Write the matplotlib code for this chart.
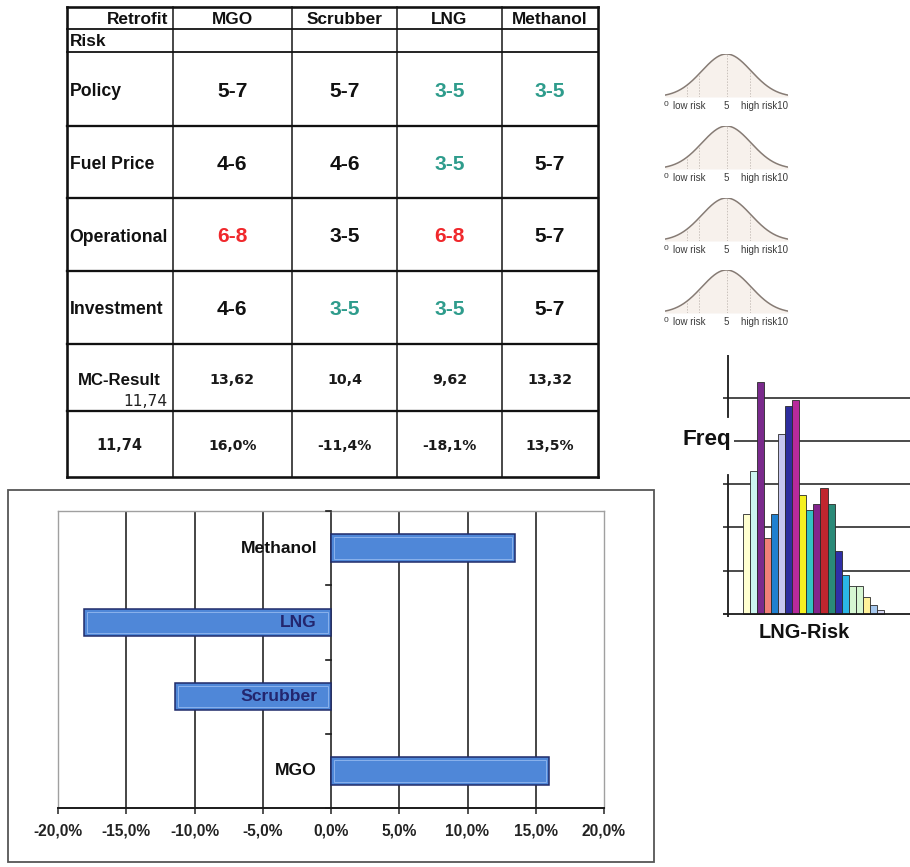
import numpy as np
import matplotlib
matplotlib.use("Agg")
import matplotlib.pyplot as plt
from matplotlib.patches import Rectangle

# ---------------------------------------------------------------- data
retrofits = ["MGO", "Scrubber", "LNG", "Methanol"]
risk_factors = ["Policy", "Fuel Price", "Operational", "Investment"]
risk_ranges = [
    ["5-7", "5-7", "3-5", "3-5"],
    ["4-6", "4-6", "3-5", "5-7"],
    ["6-8", "3-5", "6-8", "5-7"],
    ["4-6", "3-5", "3-5", "5-7"],
]
# -1 = favourable (low risk), 0 = neutral, 1 = unfavourable (high risk)
risk_class = [
    [0, 0, -1, -1],
    [0, 0, -1, 0],
    [1, 0, 1, 0],
    [0, -1, -1, 0],
]
mc_result = [13.62, 10.4, 9.62, 13.32]
mc_mean = 11.74
deviation_pct = [16.0, -11.4, -18.1, 13.5]

# Monte-Carlo histogram of the LNG risk score
lng_freq = [46, 66, 107, 35, 46, 83, 96, 99, 55, 48,
            51, 58, 51, 29, 18, 13, 13, 8, 4, 2]
lng_colors = ["#FFFFD0", "#CCF5F0", "#7A2A8C", "#F08078", "#2080D0",
              "#C8C8F0", "#2E2E9E", "#B82A9C", "#F5F020", "#33C2C2",
              "#84238C", "#C0262E", "#2A8A78", "#2F2FA8", "#2BB6E6",
              "#D6F7D2", "#D6F7D2", "#FFF29A", "#A6C8EE", "#D8D8F4"]
freq_grid = [20, 40, 60, 80, 100]

# risk-score distribution guides
bell_tick_pos = [-0.1, 2.0, 5.0, 8.1]
bell_tick_labels = ["0", "low risk", "5", "high risk10"]
bell_guides = [1.8, 2.8, 5.0, 6.9]

# bar chart axis
pct_ticks = [-20, -15, -10, -5, 0, 5, 10, 15, 20]

# ---------------------------------------------------------------- figure
W, H = 910, 867
fig = plt.figure(figsize=(W / 100, H / 100), dpi=100)
fig.patch.set_facecolor("white")
plt.rcParams["font.family"] = ["Liberation Sans", "DejaVu Sans"]


def pt(px):
    return px * 0.72


def px_axes(x0, y0, x1, y1, **kw):
    return fig.add_axes([x0 / W, 1 - y1 / H, (x1 - x0) / W, (y1 - y0) / H], **kw)


def comma(v):
    return ("%g" % v).replace(".", ",")


canvas = px_axes(0, 0, W, H)
canvas.set_xlim(0, W)
canvas.set_ylim(H, 0)
canvas.axis("off")

# ---------------------------------------------------------------- table
col_x = [66.7, 172.7, 292, 397, 502, 598]
row_y = [6.7, 29.3, 52.3, 126, 198.3, 270.7, 344, 411, 477]
ink = "#111111"

for i, y in enumerate(row_y):
    lw = 2.6 if i in (0, len(row_y) - 1) else (1.8 if i < 3 else 2.3)
    canvas.plot([col_x[0], col_x[-1]], [y, y], color=ink, lw=pt(lw),
                solid_capstyle="projecting")
for j, x in enumerate(col_x):
    lw = 2.6 if j in (0, len(col_x) - 1) else 1.5
    canvas.plot([x, x], [row_y[0], row_y[-1]], color=ink, lw=pt(lw),
                solid_capstyle="projecting")

col_c = [(col_x[j] + col_x[j + 1]) / 2 for j in range(len(col_x) - 1)]
row_c = [(row_y[i] + row_y[i + 1]) / 2 for i in range(len(row_y) - 1)]

head_fs = pt(17.2)
canvas.text(col_x[1] - 4, row_c[0] + 1, "Retrofit", ha="right", va="center",
            fontsize=head_fs, fontweight="bold", color=ink)
for j, name in enumerate(retrofits):
    canvas.text(col_c[j + 1], row_c[0] + 1, name, ha="center", va="center",
                fontsize=head_fs, fontweight="bold", color=ink)
canvas.text(col_x[0] + 3, row_c[1] + 1, "Risk", ha="left", va="center",
            fontsize=head_fs, fontweight="bold", color=ink)

class_color = {-1: "#2E9C8C", 0: ink, 1: "#F0282C"}
for i, factor in enumerate(risk_factors):
    yc = row_c[2 + i] + 2.5
    canvas.text(col_x[0] + 3, yc, factor, ha="left", va="center",
                fontsize=pt(17.6), fontweight="bold", color=ink)
    for j in range(len(retrofits)):
        canvas.text(col_c[j + 1], yc, risk_ranges[i][j], ha="center",
                    va="center", fontsize=pt(21), fontweight="bold",
                    color=class_color[risk_class[i][j]])

# Monte-Carlo result row
y_mc = row_c[6] + 3
canvas.text(col_c[0], y_mc, "MC-Result", ha="center", va="center",
            fontsize=pt(16.8), fontweight="bold", color=ink)
canvas.text(col_x[1] - 5, y_mc + 21, comma(mc_mean), ha="right", va="center",
            fontsize=pt(15.5), color="#222222", family="DejaVu Sans")
for j, v in enumerate(mc_result):
    canvas.text(col_c[j + 1], y_mc, comma(v), ha="center", va="center",
                fontsize=pt(14.3), fontweight="bold", color="#1a1a1a",
                family="DejaVu Sans")

# deviation row
y_dev = row_c[7] + 1.5
canvas.text(col_c[0], y_dev, comma(mc_mean), ha="center", va="center",
            fontsize=pt(14.5), fontweight="bold", color="#1a1a1a",
            family="DejaVu Sans")
for j, v in enumerate(deviation_pct):
    canvas.text(col_c[j + 1], y_dev, ("%.1f%%" % v).replace(".", ","),
                ha="center", va="center", fontsize=pt(14), fontweight="bold",
                color="#1a1a1a", family="DejaVu Sans")

# ---------------------------------------------------------------- risk bells
bell_tops = [54, 126, 198, 270]
xs = np.linspace(0, 10, 300)


def bell(x):
    return np.exp(-0.5 * ((x - 5.0) / 2.0) ** 2)


for top in bell_tops:
    bx = px_axes(665, top, 788, top + 43)
    bx.set_xlim(0, 10)
    bx.set_ylim(0, 1.0)
    bx.axis("off")
    bx.fill_between(xs, bell(xs), color="#F7F1EC", lw=0)
    for g in bell_guides:
        bx.plot([g, g], [0, bell(g)], ls=(0, (1.5, 1.5)), color="#C9C1BB",
                lw=0.7)
    bx.plot(xs, bell(xs), color="#867B74", lw=1.1)
    bx.axhline(0, color="#CFC8C2", lw=0.6)
    for p, lab in zip(bell_tick_pos, bell_tick_labels):
        ha = "left" if p < 0.5 else "center"
        fs = pt(8.5) if lab == "0" else pt(9.8)
        dy = -0.18 if lab == "0" else -0.22
        bx.text(p, dy, lab, ha=ha, va="center", fontsize=fs,
                color="#3a3a3a", clip_on=False)

# ---------------------------------------------------------------- histogram
hax = px_axes(723, 355, 910, 617)
unit = 7.07
x_lo = -(746.2 - 723) / unit
x_hi = (910 - 746.2) / unit
per_px = 1 / 2.165
y_lo = -(617 - 614) * per_px
y_hi = (614 - 355) * per_px
hax.set_xlim(x_lo, x_hi)
hax.set_ylim(y_lo, y_hi)
hax.axis("off")
idx = np.arange(len(lng_freq))
hax.bar(idx, lng_freq, width=1.0, color=lng_colors, edgecolor="#2a2a2a",
        lw=0.6, zorder=3)
for g in freq_grid:
    hax.axhline(g, color="#1a1a1a", lw=1.1, zorder=2)
hax.axhline(0, color="#1a1a1a", lw=1.3, zorder=4)
axis_x = x_lo + 5 / unit
hax.plot([axis_x, axis_x], [y_lo, (614 - 475) * per_px], color="#1a1a1a",
         lw=1.3, zorder=4)
hax.plot([axis_x, axis_x], [(614 - 417) * per_px, y_hi], color="#1a1a1a",
         lw=1.3, zorder=4)
fig.text(731 / W, 1 - 440 / H, "Freq", ha="right", va="center",
         fontsize=pt(22.5), fontweight="bold", color="#111111",
         bbox=dict(boxstyle="square,pad=0.12", fc="white", ec="none"),
         zorder=6)
fig.text(804 / W, 1 - 633 / H, "LNG-Risk", ha="center", va="center",
         fontsize=pt(20), fontweight="bold", color="#111111")

# ---------------------------------------------------------------- bar chart
canvas.add_patch(Rectangle((8, 490), 646, 372, fill=False, ec="#555555",
                           lw=pt(1.8)))

bax = px_axes(58, 511, 604, 808)
cats = retrofits
ypos = np.arange(len(cats))
vals = np.array(deviation_pct) / 100.0
bax.set_xlim(pct_ticks[0] / 100, pct_ticks[-1] / 100)
bax.set_ylim(-0.5, len(cats) - 0.5)
bax.barh(ypos, vals, height=0.37, color="#4F87D8", edgecolor="#1F2B6A",
         lw=1.1, zorder=3)
inset = 0.0022
bax.barh(ypos, vals - np.sign(vals) * 2 * inset, left=np.sign(vals) * inset,
         height=0.29, fill=False, edgecolor="#8AB2EC", lw=0.7, zorder=4)

for t in pct_ticks[1:-1]:
    bax.axvline(t / 100, color="#262626", lw=1.2, zorder=1)
bax.set_xticks([t / 100 for t in pct_ticks])
bax.set_xticklabels([("%.1f%%" % t).replace(".", ",") for t in pct_ticks],
                    fontsize=pt(15.5), fontweight="bold", color="#222222")
bax.tick_params(axis="x", direction="out", length=4, width=1.1,
                color="#222222", pad=7)
bax.set_yticks([])
for side in ("top", "left", "right"):
    bax.spines[side].set_color("#A0A0A0")
    bax.spines[side].set_linewidth(1.0)
bax.spines["bottom"].set_color("#1a1a1a")
bax.spines["bottom"].set_linewidth(1.4)

tick_len = (pct_ticks[-1] - pct_ticks[0]) / 100 / 546 * 5
for b in np.arange(-0.5, len(cats), 1.0):
    bax.plot([-tick_len, 0], [b, b], color="#1a1a1a", lw=1.2, zorder=5,
             clip_on=False)

label_color = {"MGO": "#111111", "Scrubber": "#23266E", "LNG": "#23266E",
               "Methanol": "#111111"}
for y, name in zip(ypos, cats):
    bax.annotate(name, xy=(0, y), xytext=(-10, 0), textcoords="offset points",
                 ha="right", va="center", fontsize=pt(17.5),
                 fontweight="bold", color=label_color[name], zorder=6)

fig.savefig("out.png", dpi=100)
